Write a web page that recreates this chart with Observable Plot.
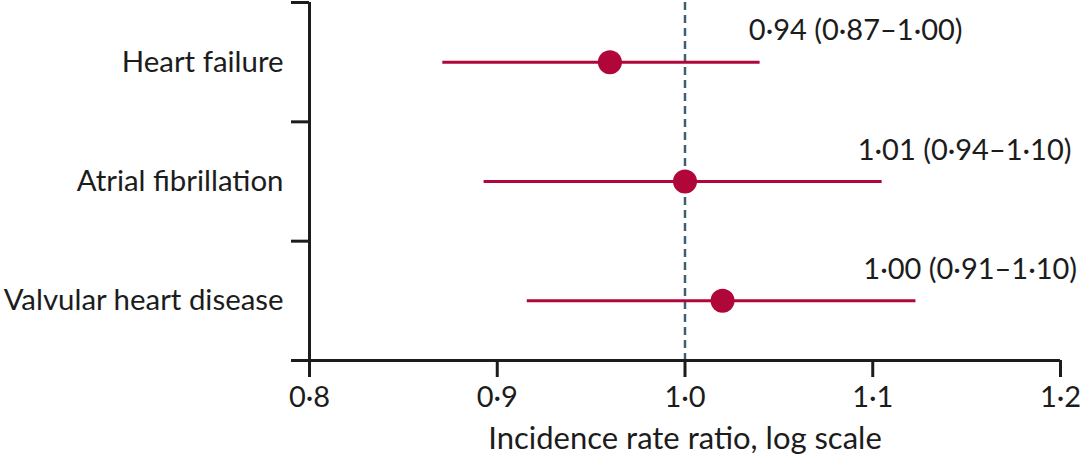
<!DOCTYPE html>
<html>
<head>
<meta charset="utf-8">
<script src="https://cdn.jsdelivr.net/npm/d3@7"></script>
<script src="https://cdn.jsdelivr.net/npm/@observablehq/plot@0.6"></script>
<style>
  html, body { margin: 0; padding: 0; background: #fff; }
  #chart svg { display: block; }
</style>
</head>
<body>
<div id="chart"></div>
<script>
const outcomes = ["Heart failure", "Atrial fibrillation", "Valvular heart disease"];
const estimate = [0.96, 1.00, 1.02];
const lower = [0.871, 0.893, 0.916];
const upper = [1.040, 1.105, 1.123];
const labels = ["0·94 (0·87–1·00)", "1·01 (0·94–1·10)", "1·00 (0·91–1·10)"];
const xTicks = [0.8, 0.9, 1.0, 1.1, 1.2];
const xTitle = "Incidence rate ratio, log scale";

const rows = outcomes.map((name, i) => ({
  name, pos: i + 0.5, est: estimate[i], lo: lower[i], hi: upper[i], label: labels[i]
}));

const red = "#b0063a";
const ink = "#1c1c1c";
const font = "Lato, 'Open Sans', sans-serif";
// per-row horizontal placement of annotation text (x units)
const labelShift = [-0.006, -0.013, -0.028];

const chart = Plot.plot({
  width: 1080,
  height: 468,
  marginLeft: 309,
  marginRight: 20,
  marginTop: 2,
  marginBottom: 108,
  style: { fontFamily: font, background: "#fff", color: ink },
  x: { type: "linear", domain: [0.8, 1.2] },
  y: { type: "linear", domain: [0, 3], reverse: true },
  marks: [
    // reference line at 1.0
    Plot.ruleX([1], { y1: 0, y2: 3, stroke: "#3f6070", strokeWidth: 2.5, strokeDasharray: "8,5" }),
    // axes lines
    Plot.ruleX([0.8], { y1: 0, y2: 3, stroke: ink, strokeWidth: 3 }),
    Plot.ruleY([3], { x1: 0.8, x2: 1.2, stroke: ink, strokeWidth: 3 }),
    // y boundary ticks
    Plot.axisY({ ticks: [0, 1, 2, 3], tickSize: 18, tickFormat: () => "", stroke: ink, strokeWidth: 3, label: null }),
    // y category labels
    Plot.axisY({
      ticks: [0.5, 1.5, 2.5], tickSize: 0, tickPadding: 26,
      tickFormat: (d) => outcomes[Math.floor(d)],
      fontSize: 29.4, fill: ink, label: null
    }),
    // x axis
    Plot.axisX({
      ticks: xTicks, tickSize: 17, tickPadding: 9, strokeWidth: 3, stroke: ink,
      tickFormat: (d) => d.toFixed(1).replace(".", "·"),
      fontSize: 29, fill: ink, label: null
    }),
    // x axis title
    Plot.text([xTitle], {
      frameAnchor: "bottom", text: (d) => d, dy: 79, fontSize: 31, fill: ink, lineAnchor: "middle"
    }),
    // CI lines
    Plot.ruleY(rows, { y: "pos", x1: "lo", x2: "hi", stroke: red, strokeWidth: 3 }),
    // point estimates
    Plot.dot(rows, { x: "est", y: "pos", r: 12, fill: red, stroke: "none" }),
    // annotations
    Plot.text(rows, {
      x: (d, i) => d.hi + labelShift[i], y: "pos", text: "label",
      textAnchor: "start", dy: -31, fontSize: 29, fill: ink
    })
  ]
});
document.getElementById("chart").appendChild(chart);
</script>
</body>
</html>
